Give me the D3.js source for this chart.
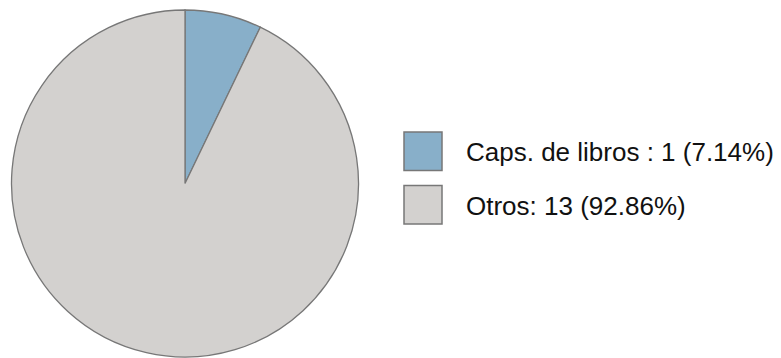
<!DOCTYPE html>
<html>
<head>
<meta charset="utf-8">
<script src="https://cdn.jsdelivr.net/npm/d3@7"></script>
<style>
  html, body { margin: 0; padding: 0; background: #fff; }
  svg { display: block; }
</style>
</head>
<body>
<svg id="chart" width="781" height="358"></svg>
<script>
// Publication counts by type
const categories = ["Caps. de libros", "Otros"];
const values = [1, 13];
const labels = ["Caps. de libros : 1 (7.14%)", "Otros: 13 (92.86%)"];
const colors = ["#88afc9", "#d3d1cf"];

const svg = d3.select("#chart");
const cx = 185, cy = 183.5, r = 173.5;

const pie = d3.pie().sort(null).value(d => d)(values);
const arc = d3.arc().innerRadius(0).outerRadius(r);

svg.append("g")
  .attr("transform", `translate(${cx},${cy})`)
  .selectAll("path")
  .data(pie)
  .join("path")
  .attr("d", arc)
  .attr("fill", (d, i) => colors[i])
  .attr("stroke", "#777")
  .attr("stroke-width", 1.3);

const legend = svg.append("g").attr("transform", "translate(404,132)");
const row = legend.selectAll("g")
  .data(categories)
  .join("g")
  .attr("transform", (d, i) => `translate(0,${i * 53.5})`);

row.append("rect")
  .attr("width", 38).attr("height", 38.5)
  .attr("fill", (d, i) => colors[i])
  .attr("stroke", "#777")
  .attr("stroke-width", 1.5);

row.append("text")
  .attr("x", 62).attr("y", 20)
  .attr("dy", "0.35em")
  .attr("font-family", "Liberation Sans, Arial, sans-serif")
  .attr("font-size", 26)
  .attr("fill", "#111")
  .text((d, i) => labels[i]);
</script>
</body>
</html>
